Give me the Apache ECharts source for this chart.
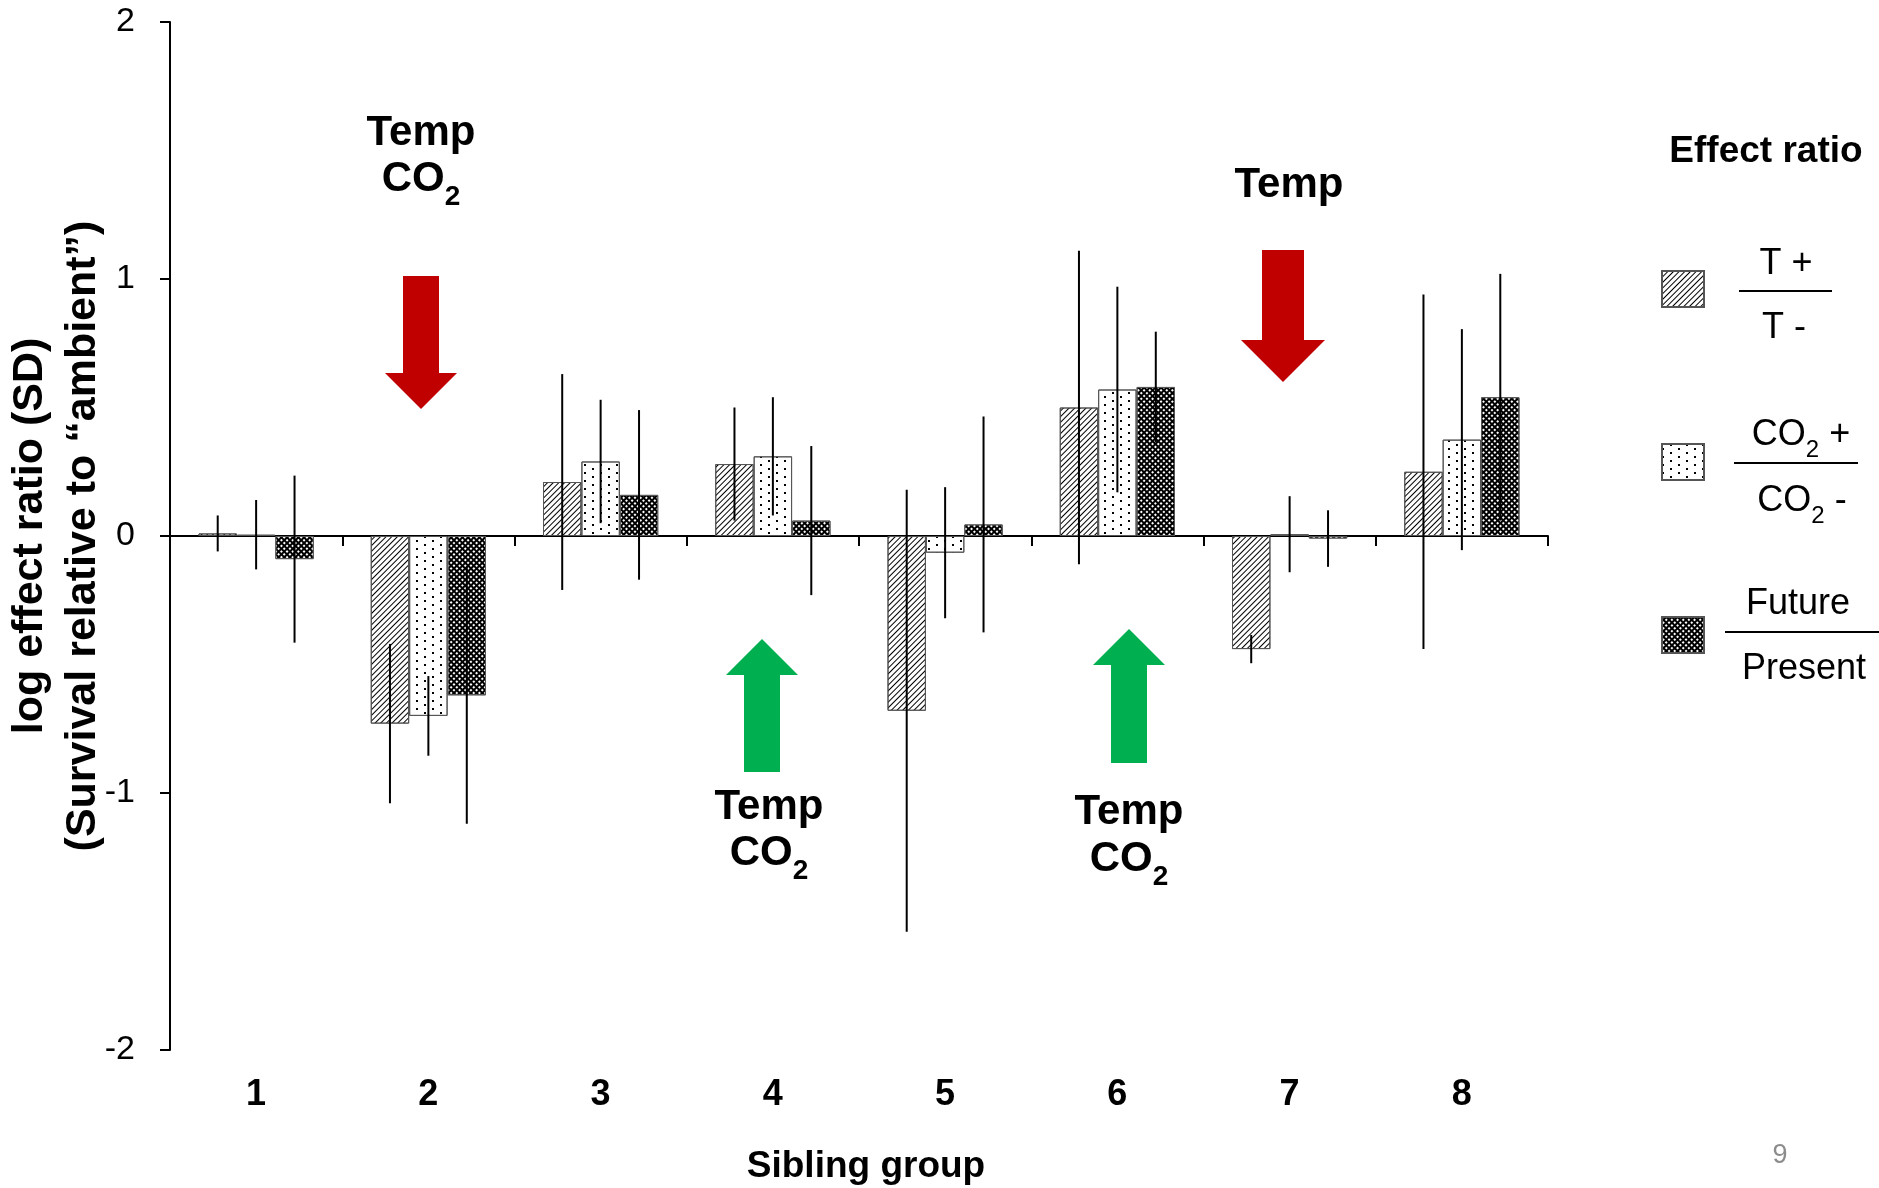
<!DOCTYPE html>
<html>
<head>
<meta charset="utf-8">
<script src="https://cdn.jsdelivr.net/npm/echarts@6/dist/echarts.min.js"></script>
<style>
html,body{margin:0;padding:0;background:#fff;}
#main{width:1879px;height:1188px;}
</style>
</head>
<body>
<div id="main"></div>
<script>
// ---- data ----
const categories = ['1', '2', '3', '4', '5', '6', '7', '8'];
const seriesNames = ['T+ / T-', 'CO2+ / CO2-', 'Future / Present'];
const tempVals = [0.01, -0.73, 0.21, 0.28, -0.68, 0.50, -0.44, 0.25];
const tempErr  = [0.07, 0.31, 0.42, 0.22, 0.86, 0.61, 0.055, 0.69];
const co2Vals  = [0.005, -0.70, 0.29, 0.31, -0.065, 0.57, 0.007, 0.375];
const co2Err   = [0.135, 0.155, 0.24, 0.23, 0.255, 0.40, 0.148, 0.43];
const futVals  = [-0.09, -0.62, 0.16, 0.06, 0.045, 0.58, -0.01, 0.54];
const futErr   = [0.325, 0.50, 0.33, 0.29, 0.42, 0.215, 0.11, 0.48];
const yTicks = [-2, -1, 0, 1, 2];

// ---- styling ----
const FONT = '"Liberation Sans", Arial, Helvetica, sans-serif';
const BAR_FRAC = 0.223;
const RED = '#C00000', GREEN = '#00B050';

const chart = echarts.init(document.getElementById('main'), null, {renderer: 'canvas'});

const allVals = [tempVals, co2Vals, futVals];
const allErr = [tempErr, co2Err, futErr];
const errData = [];
allVals.forEach((vals, k) => {
  vals.forEach((v, i) => {
    errData.push([i, v - allErr[k][i], v + allErr[k][i], k]);
  });
});

const decals = [
  {symbol: 'rect', symbolSize: 1, dashArrayX: [1, 0], dashArrayY: [1, 3], rotation: -Math.PI / 4, color: '#000'},
  {symbol: 'rect', symbolSize: 1, dashArrayX: [[2, 14], [0, 8, 2, 6]], dashArrayY: [2, 2], color: '#000'},
  {symbol: 'rect', symbolSize: 1, dashArrayX: [[2, 2]], dashArrayY: [2, 2], color: '#fff'}
];
const fills = ['#fff', '#fff', '#000'];

const barSeries = allVals.map((vals, k) => ({
  name: seriesNames[k],
  type: 'bar',
  xAxisIndex: 0,
  yAxisIndex: 0,
  data: vals,
  barWidth: (BAR_FRAC * 100) + '%',
  barGap: '0%',
  itemStyle: {color: fills[k], borderColor: '#555', borderWidth: 1, decal: decals[k]},
  emphasis: {disabled: true},
  z: 2
}));

const errSeries = {
  type: 'custom',
  xAxisIndex: 0,
  yAxisIndex: 0,
  data: errData,
  encode: {x: 0, y: [1, 2]},
  z: 5,
  silent: true,
  renderItem: function (params, api) {
    const i = api.value(0), lo = api.value(1), hi = api.value(2), k = api.value(3);
    const band = api.size([1, 0])[0];
    const bw = band * BAR_FRAC;
    const c = api.coord([i, 0]);
    const x = c[0] + (k - 1) * bw;
    const p1 = api.coord([i, lo]);
    const p2 = api.coord([i, hi]);
    return {
      type: 'line',
      shape: {x1: x, y1: p1[1], x2: x, y2: p2[1]},
      style: {stroke: '#000', lineWidth: 2}
    };
  }
};

function downArrow(cx, sw, hw, top, hb, tip, color) {
  return {
    type: 'polygon', z: 10,
    shape: {points: [[cx - sw / 2, top], [cx + sw / 2, top], [cx + sw / 2, hb], [cx + hw / 2, hb], [cx, tip], [cx - hw / 2, hb], [cx - sw / 2, hb]]},
    style: {fill: color}
  };
}
function upArrow(cx, sw, hw, bottom, hb, tip, color) {
  return {
    type: 'polygon', z: 10,
    shape: {points: [[cx - sw / 2, bottom], [cx + sw / 2, bottom], [cx + sw / 2, hb], [cx + hw / 2, hb], [cx, tip], [cx - hw / 2, hb], [cx - sw / 2, hb]]},
    style: {fill: color}
  };
}
const DY = 3;
function txt(x, y, text, size, weight, extra) {
  return {
    type: 'text', x: x, y: y + DY, z: 10,
    style: Object.assign({
      text: text, fill: '#000', textAlign: 'center', textVerticalAlign: 'middle',
      fontSize: size, fontWeight: weight, fontFamily: FONT
    }, extra || {})
  };
}
function co2Text(x, y, size, weight, suffix) {
  return txt(x, y, '{n|CO}{s|2}' + (suffix ? '{n|' + suffix + '}' : ''), size, weight, {
    rich: {
      n: {fontSize: size, fontWeight: weight, fontFamily: FONT, fill: '#000', lineHeight: size * 1.15},
      s: {fontSize: Math.round(size * 0.66), fontWeight: weight, fontFamily: FONT, fill: '#000', lineHeight: 10, padding: [Math.round(size * 0.85), 0, 0, 0]}
    }
  });
}
function hline(x1, x2, y) {
  return {type: 'line', z: 10, shape: {x1: x1, y1: y, x2: x2, y2: y}, style: {stroke: '#000', lineWidth: 2}};
}

const graphics = [
  // annotations
  txt(421, 130, 'Temp', 42, 'bold'),
  co2Text(421, 176, 42, 'bold'),
  downArrow(421, 36, 72, 276, 373, 409, RED),
  txt(1289, 182, 'Temp', 42, 'bold'),
  downArrow(1283, 42, 84, 250, 340, 382, RED),
  upArrow(762, 36, 72, 772, 675, 639, GREEN),
  txt(769, 804, 'Temp', 42, 'bold'),
  co2Text(769, 850, 42, 'bold'),
  upArrow(1129, 36, 72, 763, 665, 629, GREEN),
  txt(1129, 809, 'Temp', 42, 'bold'),
  co2Text(1129, 856, 42, 'bold'),
  // legend texts
  txt(1766, 149, 'Effect ratio', 37, 'bold'),
  txt(1786, 261, 'T +', 36, 'normal'),
  hline(1739, 1832, 291),
  txt(1784, 325, 'T -', 36, 'normal'),
  co2Text(1801, 432, 36, 'normal', ' +'),
  hline(1734, 1858, 463),
  co2Text(1802, 498, 36, 'normal', ' -'),
  txt(1798, 601, 'Future', 36, 'normal'),
  hline(1725, 1879, 632),
  txt(1804, 666, 'Present', 36, 'normal'),
  // page number
  txt(1780, 1153, '9', 27, 'normal', {fill: '#8c8c8c'})
];

const option = {
  animation: false,
  backgroundColor: '#fff',
  textStyle: {fontFamily: FONT},
  aria: {enabled: true, decal: {show: true}},
  grid: {left: 170, right: 331, top: 22, bottom: 138, containLabel: false, outerBoundsMode: 'none'},
  legend: {
    show: true, orient: 'vertical', left: 1661, top: 270, padding: 0,
    itemWidth: 42, itemHeight: 36, itemGap: 135, icon: 'rect',
    selectedMode: false, data: seriesNames,
    formatter: function () { return ''; },
    textStyle: {fontSize: 1}
  },
  xAxis: [
    {
      type: 'category', data: categories, position: 'bottom',
      axisLine: {show: true, onZero: true, lineStyle: {color: '#000', width: 2}},
      axisTick: {show: true, length: 10, lineStyle: {color: '#000', width: 2}},
      axisLabel: {show: false},
      splitLine: {show: false}
    },
    {
      type: 'category', data: categories, position: 'bottom',
      axisLine: {show: false, onZero: false},
      axisTick: {show: false},
      axisLabel: {show: true, margin: 27, fontSize: 36, fontWeight: 'bold', color: '#000', fontFamily: FONT},
      splitLine: {show: false},
      name: 'Sibling group', nameLocation: 'middle', nameGap: 98,
      nameTextStyle: {fontSize: 37, fontWeight: 'bold', color: '#000', fontFamily: FONT, padding: [0, 0, 0, 14]}
    }
  ],
  yAxis: {
    type: 'value', min: yTicks[0], max: yTicks[yTicks.length - 1], interval: 1,
    axisLine: {show: true, lineStyle: {color: '#000', width: 2}},
    axisTick: {show: true, length: 10, lineStyle: {color: '#000', width: 2}},
    axisLabel: {margin: 35, fontSize: 34, color: '#000', fontFamily: FONT},
    splitLine: {show: false},
    name: 'log effect ratio (SD)\n(Survival relative to \u201Cambient\u201D)',
    nameLocation: 'middle', nameRotate: 90, nameGap: 60, nameMoveOverlap: false,
    nameTextStyle: {fontSize: 43, fontWeight: 'bold', color: '#000', lineHeight: 53, fontFamily: FONT, align: 'center'}
  },
  series: barSeries.concat([errSeries]),
  graphic: graphics
};
chart.setOption(option);
</script>
</body>
</html>
